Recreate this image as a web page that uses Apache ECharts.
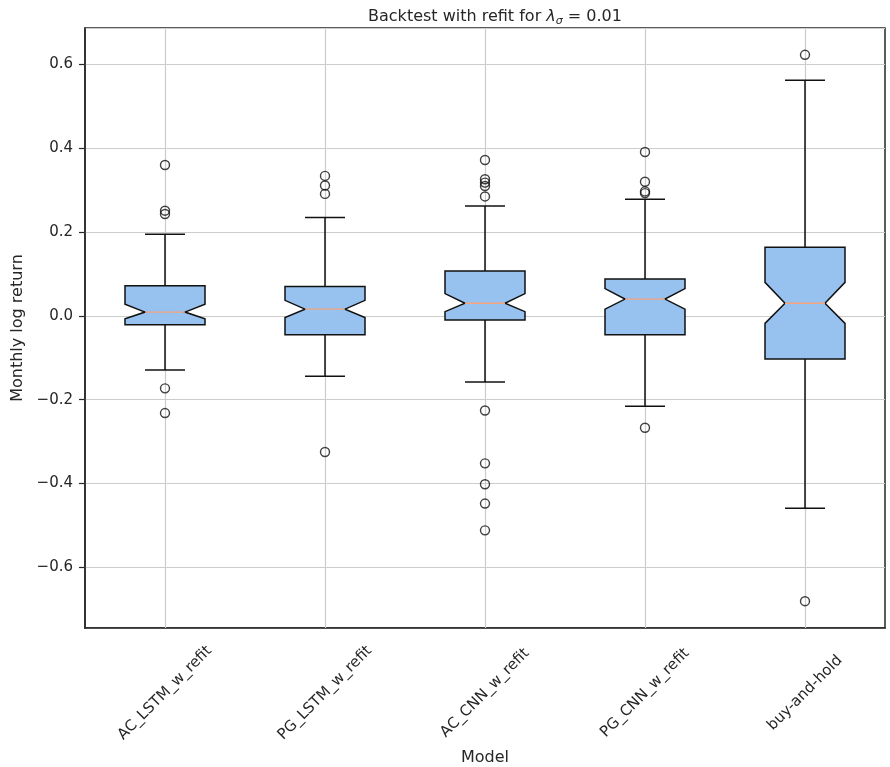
<!DOCTYPE html>
<html>
<head>
<meta charset="utf-8">
<style>
  html, body { margin: 0; padding: 0; background: #fff; }
  #chart { width: 890px; height: 767px; }
</style>
<script src="https://cdn.jsdelivr.net/npm/echarts@6/dist/echarts.min.js"></script>
</head>
<body>
<div id="chart"></div>
<script>
// categories and box statistics
var models = ['AC_LSTM_w_refit', 'PG_LSTM_w_refit', 'AC_CNN_w_refit', 'PG_CNN_w_refit', 'buy-and-hold'];
var whiskerLow  = [-0.129, -0.144, -0.158, -0.216, -0.459];
var q1          = [-0.021, -0.045, -0.010, -0.045, -0.103];
var notchLow    = [-0.007, -0.004,  0.010,  0.016, -0.018];
var median      = [ 0.009,  0.016,  0.030,  0.040,  0.030];
var notchHigh   = [ 0.028,  0.037,  0.053,  0.065,  0.080];
var q3          = [ 0.072,  0.070,  0.107,  0.088,  0.164];
var whiskerHigh = [ 0.195,  0.235,  0.262,  0.278,  0.562];
// outliers per model
var fliers = [
  [0.360, 0.251, 0.243, -0.173, -0.232],
  [0.334, 0.311, 0.291, -0.325],
  [0.372, 0.326, 0.318, 0.310, 0.285, -0.226, -0.352, -0.402, -0.448, -0.512],
  [0.391, 0.320, 0.297, 0.293, -0.267],
  [0.623, -0.681]
];

var ink = '#262626';
var edge = '#111111';

var boxData = models.map(function (m, i) {
  return [i, whiskerLow[i], q1[i], notchLow[i], median[i], notchHigh[i], q3[i], whiskerHigh[i]];
});
var flierData = [];
fliers.forEach(function (arr, i) {
  arr.forEach(function (v) { flierData.push([i, v]); });
});

function renderBox(params, api) {
  var idx = api.value(0);
  var w = api.size([1, 0])[0] * 0.25;
  function P(v) { return api.coord([idx, v]); }
  var x = P(0)[0];
  var yWl = P(api.value(1))[1], yQ1 = P(api.value(2))[1], yNl = P(api.value(3))[1];
  var yMed = P(api.value(4))[1], yNh = P(api.value(5))[1], yQ3 = P(api.value(6))[1];
  var yWh = P(api.value(7))[1];
  var lineStyle = { stroke: edge, lineWidth: 1.5 };
  return {
    type: 'group',
    children: [
      { type: 'line', shape: { x1: x, y1: yQ1, x2: x, y2: yWl }, style: lineStyle },
      { type: 'line', shape: { x1: x, y1: yQ3, x2: x, y2: yWh }, style: lineStyle },
      { type: 'line', shape: { x1: x - w / 2, y1: yWl, x2: x + w / 2, y2: yWl }, style: lineStyle },
      { type: 'line', shape: { x1: x - w / 2, y1: yWh, x2: x + w / 2, y2: yWh }, style: lineStyle },
      {
        type: 'polygon',
        shape: { points: [
          [x - w, yQ3], [x + w, yQ3], [x + w, yNh], [x + w / 2, yMed], [x + w, yNl],
          [x + w, yQ1], [x - w, yQ1], [x - w, yNl], [x - w / 2, yMed], [x - w, yNh]
        ] },
        style: { fill: '#97c1ee', stroke: edge, lineWidth: 1.5 }
      },
      { type: 'line', shape: { x1: x - w / 2, y1: yMed, x2: x + w / 2, y2: yMed },
        style: { stroke: '#f5a47c', lineWidth: 1.4 } }
    ]
  };
}

var chart = echarts.init(document.getElementById('chart'));
chart.setOption({
  animation: false,
  textStyle: { fontFamily: 'DejaVu Sans', color: ink },
  title: {
    text: 'Backtest with refit for {it|λ}{sub|σ}{n| = 0.01}',
    left: 490, top: 2, textAlign: 'center',
    textStyle: {
      fontFamily: 'DejaVu Sans', fontSize: 16, fontWeight: 'normal', color: ink,
      rich: {
        it: { fontFamily: 'DejaVu Sans', fontSize: 16, fontStyle: 'italic', color: ink },
        sub: { fontFamily: 'DejaVu Sans', fontSize: 11, fontStyle: 'italic', color: ink, padding: [9, 0, 0, 0] },
        n: { fontFamily: 'DejaVu Sans', fontSize: 16, color: ink }
      }
    }
  },
  grid: {
    left: 85, right: 5, top: 28, bottom: 139,
    outerBoundsMode: 'none',
    show: true, borderColor: ink, borderWidth: 1.5, backgroundColor: '#fff'
  },
  xAxis: {
    type: 'category',
    data: models,
    boundaryGap: true,
    name: 'Model',
    nameLocation: 'middle',
    nameGap: 122,
    nameTextStyle: { fontSize: 16, color: ink },
    axisLine: { onZero: false, lineStyle: { color: ink, width: 1.5 } },
    axisTick: { alignWithLabel: true, length: 6, lineStyle: { color: ink, width: 1.2 } },
    axisLabel: {
      rotate: 45, fontSize: 15, color: ink, margin: 65,
      align: 'center', verticalAlign: 'middle'
    },
    splitLine: { show: false }
  },
  yAxis: {
    type: 'value',
    min: -0.745, max: 0.687,
    splitNumber: 7,
    name: 'Monthly log return',
    nameLocation: 'middle',
    nameGap: 59,
    nameTextStyle: { fontSize: 16, color: ink },
    axisLine: { show: true, onZero: false, lineStyle: { color: ink, width: 1.5 } },
    axisTick: { show: true, length: 6, lineStyle: { color: ink, width: 1.2 } },
    axisLabel: {
      fontSize: 15, color: ink, margin: 12,
      showMinLabel: false, showMaxLabel: false,
      formatter: function (v) {
        return (v < -1e-9 ? '\u2212' : '') + Math.abs(v).toFixed(1);
      }
    },
    splitLine: { show: true, lineStyle: { color: '#cccccc', width: 1.2 } }
  },
  series: [
    {
      type: 'line', data: [], z: 1, silent: true,
      markLine: {
        z: 1,
        symbol: 'none', silent: true, label: { show: false },
        lineStyle: { color: '#cccccc', width: 1.2, type: 'solid' },
        data: models.map(function (m) { return { xAxis: m }; })
      }
    },
    {
      type: 'custom', z: 3,
      renderItem: renderBox,
      encode: { x: 0, y: [1, 2, 3, 4, 5, 6, 7] },
      data: boxData
    },
    {
      type: 'scatter', z: 4,
      symbol: 'circle', symbolSize: 9,
      itemStyle: { color: 'rgba(0,0,0,0)', borderColor: edge, borderWidth: 1.4 },
      data: flierData
    }
  ]
});
</script>
</body>
</html>
